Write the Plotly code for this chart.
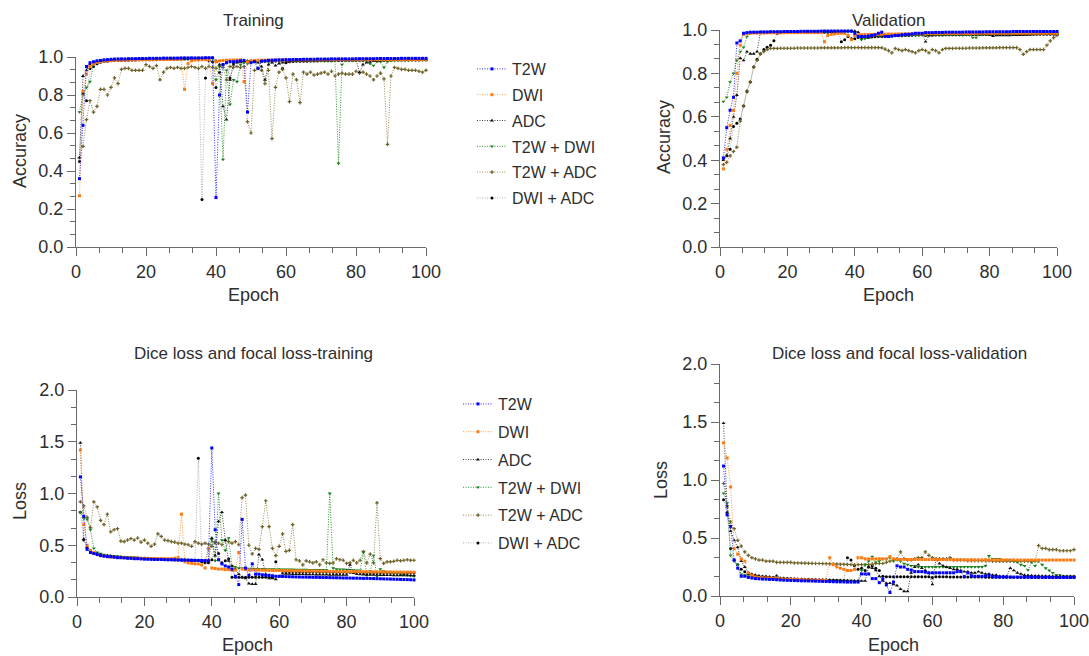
import plotly.graph_objects as go

# ---------------- data ----------------
epochs = list(range(1, 101))
series_names = ["T2W", "DWI", "ADC", "T2W + DWI", "T2W + ADC", "DWI + ADC"]

# Training accuracy
tr_acc_t2w = [
    0.36, 0.64, 0.95, 0.97, 0.975, 0.98, 0.982, 0.985, 0.986, 0.988,
    0.989, 0.99, 0.99, 0.99, 0.991, 0.991, 0.991, 0.992, 0.992, 0.992,
    0.993, 0.993, 0.993, 0.993, 0.994, 0.994, 0.994, 0.994, 0.994, 0.995,
    0.995, 0.995, 0.995, 0.995, 0.995, 0.995, 0.996, 0.996, 0.996, 0.26,
    0.80, 0.96, 0.97, 0.975, 0.975, 0.978, 0.98, 0.982, 0.71, 0.97,
    0.975, 0.94, 0.978, 0.98, 0.982, 0.983, 0.984, 0.985, 0.985, 0.986,
    0.986, 0.987, 0.987, 0.987, 0.988, 0.988, 0.988, 0.988, 0.989, 0.989,
    0.989, 0.989, 0.99, 0.99, 0.99, 0.99, 0.99, 0.99, 0.99, 0.991,
    0.991, 0.991, 0.991, 0.991, 0.991, 0.992, 0.992, 0.992, 0.992, 0.992,
    0.992, 0.992, 0.993, 0.993, 0.993, 0.993, 0.993, 0.993, 0.993, 0.993]
tr_acc_dwi = [
    0.27, 0.82, 0.91, 0.95, 0.965, 0.972, 0.976, 0.978, 0.98, 0.981,
    0.982, 0.983, 0.983, 0.984, 0.984, 0.985, 0.985, 0.985, 0.986, 0.986,
    0.986, 0.986, 0.987, 0.987, 0.987, 0.987, 0.987, 0.988, 0.988, 0.988,
    0.83, 0.965, 0.98, 0.984, 0.985, 0.986, 0.986, 0.987, 0.86, 0.975,
    0.98, 0.982, 0.983, 0.983, 0.984, 0.984, 0.985, 0.87, 0.975, 0.98,
    0.982, 0.983, 0.983, 0.983, 0.984, 0.984, 0.984, 0.984, 0.984, 0.985,
    0.985, 0.985, 0.985, 0.985, 0.985, 0.985, 0.985, 0.985, 0.985, 0.985,
    0.986, 0.986, 0.986, 0.986, 0.986, 0.986, 0.986, 0.986, 0.986, 0.986,
    0.986, 0.986, 0.986, 0.986, 0.986, 0.986, 0.986, 0.986, 0.986, 0.986,
    0.986, 0.986, 0.986, 0.986, 0.986, 0.986, 0.986, 0.986, 0.986, 0.986]
tr_acc_adc = [
    0.47, 0.90, 0.93, 0.96, 0.97, 0.975, 0.978, 0.98, 0.982, 0.984,
    0.985, 0.986, 0.987, 0.987, 0.988, 0.988, 0.989, 0.989, 0.99, 0.99,
    0.99, 0.991, 0.991, 0.991, 0.992, 0.992, 0.992, 0.993, 0.993, 0.993,
    0.993, 0.994, 0.994, 0.994, 0.994, 0.995, 0.995, 0.995, 0.995, 0.98,
    0.96, 0.74, 0.67, 0.88, 0.96, 0.97, 0.975, 0.978, 0.98, 0.98,
    0.975, 0.97, 0.95, 0.88, 0.96, 0.97, 0.955, 0.965, 0.97, 0.975,
    0.978, 0.978, 0.979, 0.98, 0.98, 0.98, 0.981, 0.981, 0.981, 0.982,
    0.982, 0.982, 0.982, 0.983, 0.983, 0.983, 0.983, 0.984, 0.984, 0.984,
    0.92, 0.96, 0.97, 0.975, 0.978, 0.98, 0.981, 0.982, 0.982, 0.983,
    0.983, 0.983, 0.984, 0.984, 0.984, 0.984, 0.985, 0.985, 0.985, 0.985]
tr_acc_td = [
    0.71, 0.80, 0.84, 0.87, 0.96, 0.975, 0.978, 0.98, 0.982, 0.984,
    0.985, 0.985, 0.986, 0.986, 0.987, 0.987, 0.988, 0.988, 0.988, 0.989,
    0.989, 0.989, 0.99, 0.99, 0.99, 0.99, 0.991, 0.991, 0.991, 0.991,
    0.991, 0.992, 0.992, 0.992, 0.992, 0.992, 0.993, 0.993, 0.993, 0.88,
    0.95, 0.46, 0.93, 0.75, 0.88, 0.87, 0.96, 0.97, 0.965, 0.975,
    0.975, 0.976, 0.976, 0.977, 0.977, 0.977, 0.978, 0.978, 0.978, 0.978,
    0.979, 0.979, 0.979, 0.979, 0.98, 0.98, 0.98, 0.98, 0.98, 0.98,
    0.98, 0.98, 0.98, 0.98, 0.44, 0.96, 0.98, 0.98, 0.98, 0.981,
    0.981, 0.981, 0.981, 0.965, 0.955, 0.975, 0.975, 0.945, 0.975, 0.98,
    0.981, 0.981, 0.981, 0.982, 0.982, 0.982, 0.982, 0.982, 0.983, 0.983]
tr_acc_ta = [
    0.47, 0.53, 0.67, 0.77, 0.71, 0.74, 0.83, 0.83, 0.80, 0.84,
    0.89, 0.86, 0.935, 0.94, 0.94, 0.93, 0.93, 0.93, 0.93, 0.96,
    0.95, 0.94, 0.955, 0.88, 0.92, 0.94, 0.945, 0.94, 0.945, 0.94,
    0.94, 0.945, 0.95, 0.945, 0.94, 0.95, 0.94, 0.95, 0.945, 0.94,
    0.95, 0.945, 0.88, 0.95, 0.945, 0.95, 0.945, 0.95, 0.66, 0.60,
    0.93, 0.94, 0.93, 0.86, 0.93, 0.57, 0.84, 0.92, 0.935, 0.89,
    0.765, 0.91, 0.88, 0.76, 0.92, 0.91, 0.92, 0.905, 0.91, 0.915,
    0.92, 0.91, 0.925, 0.90, 0.91, 0.915, 0.91, 0.91, 0.91, 0.925,
    0.915, 0.92, 0.91, 0.90, 0.88, 0.90, 0.915, 0.885, 0.54, 0.90,
    0.945, 0.94, 0.935, 0.935, 0.93, 0.93, 0.93, 0.925, 0.92, 0.93]
tr_acc_da = [
    0.45, 0.81, 0.77, 0.94, 0.95, 0.965, 0.972, 0.976, 0.978, 0.98,
    0.981, 0.982, 0.982, 0.983, 0.983, 0.984, 0.984, 0.985, 0.985, 0.985,
    0.986, 0.986, 0.986, 0.987, 0.987, 0.987, 0.988, 0.988, 0.988, 0.988,
    0.989, 0.989, 0.989, 0.99, 0.99, 0.25, 0.89, 0.98, 0.975, 0.84,
    0.92, 0.96, 0.97, 0.89, 0.97, 0.975, 0.975, 0.976, 0.976, 0.977,
    0.977, 0.977, 0.978, 0.978, 0.978, 0.978, 0.979, 0.979, 0.94, 0.97,
    0.975, 0.976, 0.977, 0.977, 0.978, 0.978, 0.979, 0.979, 0.979, 0.98,
    0.98, 0.98, 0.98, 0.981, 0.981, 0.981, 0.981, 0.982, 0.982, 0.982,
    0.982, 0.982, 0.983, 0.983, 0.983, 0.983, 0.983, 0.983, 0.984, 0.984,
    0.984, 0.984, 0.984, 0.984, 0.984, 0.985, 0.985, 0.985, 0.985, 0.985]

# Validation accuracy
va_acc_t2w = [
    0.41, 0.55, 0.63, 0.69, 0.94, 0.95, 0.985, 0.988, 0.99, 0.99,
    0.99, 0.991, 0.991, 0.991, 0.992, 0.992, 0.992, 0.992, 0.993, 0.993,
    0.993, 0.993, 0.993, 0.994, 0.994, 0.994, 0.994, 0.994, 0.994, 0.995,
    0.995, 0.995, 0.995, 0.995, 0.995, 0.995, 0.995, 0.995, 0.995, 0.985,
    0.97, 0.97, 0.97, 0.972, 0.975, 0.978, 0.985, 0.99, 0.97, 0.97,
    0.972, 0.975, 0.975, 0.978, 0.98, 0.98, 0.982, 0.985, 0.985, 0.985,
    0.988, 0.988, 0.988, 0.989, 0.989, 0.989, 0.99, 0.99, 0.99, 0.99,
    0.99, 0.99, 0.991, 0.991, 0.991, 0.991, 0.991, 0.991, 0.992, 0.992,
    0.992, 0.992, 0.992, 0.992, 0.992, 0.992, 0.993, 0.993, 0.993, 0.993,
    0.993, 0.993, 0.993, 0.993, 0.993, 0.993, 0.993, 0.993, 0.993, 0.993]
va_acc_dwi = [
    0.36, 0.45, 0.56, 0.63, 0.80, 0.93, 0.98, 0.984, 0.985, 0.986,
    0.986, 0.986, 0.986, 0.987, 0.987, 0.987, 0.987, 0.987, 0.987, 0.988,
    0.988, 0.988, 0.988, 0.988, 0.988, 0.988, 0.988, 0.988, 0.988, 0.988,
    0.946, 0.975, 0.98, 0.982, 0.984, 0.985, 0.984, 0.975, 0.955, 0.975,
    0.978, 0.978, 0.979, 0.979, 0.98, 0.98, 0.98, 0.98, 0.981, 0.981,
    0.981, 0.981, 0.982, 0.982, 0.982, 0.982, 0.982, 0.983, 0.983, 0.983,
    0.983, 0.983, 0.983, 0.983, 0.984, 0.984, 0.984, 0.984, 0.984, 0.984,
    0.984, 0.984, 0.984, 0.984, 0.984, 0.984, 0.985, 0.985, 0.985, 0.985,
    0.985, 0.985, 0.985, 0.985, 0.985, 0.985, 0.985, 0.985, 0.985, 0.985,
    0.985, 0.985, 0.985, 0.985, 0.985, 0.985, 0.985, 0.985, 0.985, 0.985]
va_acc_adc = [
    0.40, 0.42, 0.50, 0.60, 0.70, 0.87, 0.86, 0.90, 0.89, 0.89,
    0.90, 0.99, 0.99, 0.99, 0.99, 0.991, 0.991, 0.991, 0.991, 0.992,
    0.992, 0.992, 0.992, 0.992, 0.993, 0.993, 0.993, 0.993, 0.993, 0.993,
    0.994, 0.994, 0.994, 0.994, 0.994, 0.994, 0.995, 0.995, 0.995, 0.995,
    0.99, 0.975, 0.97, 0.965, 0.97, 0.975, 0.978, 0.978, 0.978, 0.979,
    0.979, 0.979, 0.979, 0.98, 0.98, 0.98, 0.98, 0.98, 0.98, 0.98,
    0.946, 0.975, 0.978, 0.979, 0.98, 0.98, 0.98, 0.98, 0.98, 0.98,
    0.98, 0.98, 0.98, 0.98, 0.98, 0.98, 0.98, 0.98, 0.98, 0.978,
    0.972, 0.975, 0.975, 0.975, 0.975, 0.975, 0.976, 0.976, 0.976, 0.977,
    0.978, 0.979, 0.98, 0.981, 0.982, 0.983, 0.983, 0.984, 0.984, 0.985]
va_acc_td = [
    0.67, 0.69, 0.76, 0.80, 0.86, 0.90, 0.92, 0.97, 0.985, 0.988,
    0.989, 0.99, 0.99, 0.99, 0.99, 0.99, 0.99, 0.991, 0.991, 0.991,
    0.991, 0.991, 0.991, 0.991, 0.991, 0.992, 0.992, 0.992, 0.992, 0.992,
    0.992, 0.992, 0.992, 0.992, 0.992, 0.992, 0.992, 0.992, 0.992, 0.99,
    0.975, 0.955, 0.96, 0.965, 0.97, 0.975, 0.975, 0.975, 0.975, 0.975,
    0.975, 0.976, 0.976, 0.976, 0.976, 0.976, 0.976, 0.976, 0.977, 0.977,
    0.977, 0.977, 0.977, 0.977, 0.977, 0.977, 0.977, 0.977, 0.977, 0.977,
    0.977, 0.977, 0.977, 0.977, 0.965, 0.965, 0.978, 0.978, 0.979, 0.979,
    0.98, 0.98, 0.98, 0.98, 0.98, 0.981, 0.981, 0.981, 0.982, 0.982,
    0.982, 0.982, 0.983, 0.983, 0.983, 0.983, 0.984, 0.984, 0.984, 0.985]
va_acc_ta = [
    0.38, 0.39, 0.42, 0.44, 0.46, 0.58, 0.65, 0.72, 0.76, 0.83,
    0.86, 0.89, 0.90, 0.91, 0.915, 0.915, 0.915, 0.916, 0.916, 0.916,
    0.916, 0.916, 0.917, 0.917, 0.917, 0.917, 0.917, 0.917, 0.917, 0.918,
    0.918, 0.918, 0.918, 0.918, 0.918, 0.918, 0.919, 0.919, 0.919, 0.919,
    0.919, 0.919, 0.919, 0.919, 0.919, 0.919, 0.919, 0.918, 0.912, 0.905,
    0.895, 0.915, 0.91, 0.905, 0.91, 0.905, 0.90, 0.895, 0.905, 0.91,
    0.905, 0.895, 0.91, 0.905, 0.895, 0.91, 0.915, 0.915, 0.915, 0.916,
    0.916, 0.916, 0.916, 0.917, 0.917, 0.917, 0.917, 0.918, 0.918, 0.918,
    0.918, 0.918, 0.919, 0.919, 0.919, 0.919, 0.919, 0.919, 0.91, 0.888,
    0.90, 0.91, 0.91, 0.91, 0.91, 0.91, 0.93, 0.95, 0.965, 0.975]
va_acc_da = [
    0.41, 0.42, 0.45, 0.555, 0.57, 0.59, 0.65, 0.716, 0.76, 0.83,
    0.865, 0.89, 0.91, 0.92, 0.93, 0.95, 0.985, 0.988, 0.989, 0.99,
    0.99, 0.99, 0.99, 0.99, 0.99, 0.99, 0.99, 0.99, 0.99, 0.99,
    0.99, 0.99, 0.99, 0.99, 0.99, 0.946, 0.955, 0.97, 0.96, 0.96,
    0.965, 0.965, 0.966, 0.967, 0.968, 0.969, 0.97, 0.97, 0.971, 0.972,
    0.972, 0.973, 0.973, 0.974, 0.975, 0.975, 0.976, 0.977, 0.977, 0.978,
    0.975, 0.976, 0.976, 0.977, 0.977, 0.977, 0.978, 0.978, 0.978, 0.978,
    0.978, 0.978, 0.979, 0.979, 0.979, 0.979, 0.979, 0.979, 0.979, 0.979,
    0.979, 0.979, 0.98, 0.98, 0.98, 0.98, 0.98, 0.98, 0.98, 0.98,
    0.98, 0.98, 0.98, 0.98, 0.98, 0.98, 0.98, 0.98, 0.98, 0.98]

# Training loss
tr_loss_t2w = [
    1.16, 0.78, 0.46, 0.43, 0.42, 0.41, 0.40, 0.395, 0.39, 0.39,
    0.385, 0.38, 0.38, 0.378, 0.375, 0.373, 0.37, 0.37, 0.368, 0.366,
    0.365, 0.364, 0.363, 0.362, 0.362, 0.361, 0.36, 0.36, 0.36, 0.358,
    0.357, 0.356, 0.355, 0.355, 0.354, 0.353, 0.352, 0.352, 0.351, 1.44,
    0.65, 0.36, 0.32, 0.30, 0.29, 0.27, 0.20, 0.12, 0.75, 0.28,
    0.21, 0.32, 0.22, 0.22, 0.215, 0.21, 0.21, 0.205, 0.20, 0.20,
    0.198, 0.197, 0.196, 0.195, 0.194, 0.193, 0.192, 0.192, 0.191, 0.19,
    0.19, 0.189, 0.188, 0.188, 0.187, 0.186, 0.186, 0.185, 0.184, 0.184,
    0.183, 0.182, 0.182, 0.181, 0.18, 0.18, 0.179, 0.178, 0.177, 0.176,
    0.175, 0.174, 0.173, 0.172, 0.171, 0.17, 0.169, 0.168, 0.167, 0.165]
tr_loss_dwi = [
    1.42, 0.70, 0.50, 0.45, 0.43, 0.41, 0.40, 0.395, 0.39, 0.385,
    0.383, 0.381, 0.38, 0.379, 0.378, 0.377, 0.376, 0.375, 0.374, 0.373,
    0.373, 0.372, 0.372, 0.371, 0.371, 0.37, 0.37, 0.37, 0.375, 0.38,
    0.80, 0.34, 0.33, 0.325, 0.32, 0.32, 0.31, 0.28, 0.47, 0.28,
    0.275, 0.27, 0.27, 0.265, 0.265, 0.26, 0.26, 0.43, 0.27, 0.265,
    0.262, 0.261, 0.26, 0.26, 0.259, 0.258, 0.258, 0.257, 0.256, 0.256,
    0.255, 0.255, 0.254, 0.254, 0.253, 0.253, 0.252, 0.252, 0.251, 0.251,
    0.25, 0.25, 0.249, 0.249, 0.248, 0.248, 0.247, 0.247, 0.246, 0.246,
    0.246, 0.245, 0.245, 0.245, 0.244, 0.244, 0.244, 0.243, 0.243, 0.243,
    0.242, 0.242, 0.242, 0.241, 0.241, 0.241, 0.24, 0.24, 0.24, 0.24]
tr_loss_adc = [
    1.49, 0.56, 0.48, 0.45, 0.43, 0.42, 0.41, 0.40, 0.40, 0.395,
    0.39, 0.388, 0.386, 0.384, 0.382, 0.38, 0.378, 0.376, 0.375, 0.374,
    0.372, 0.37, 0.369, 0.368, 0.366, 0.365, 0.364, 0.362, 0.361, 0.36,
    0.359, 0.358, 0.357, 0.356, 0.355, 0.354, 0.353, 0.352, 0.351, 0.57,
    0.40, 0.73, 0.82, 0.55, 0.35, 0.30, 0.27, 0.22, 0.19, 0.18,
    0.13, 0.125, 0.125, 0.41, 0.36, 0.22, 0.18, 0.18, 0.17, 0.20,
    0.225, 0.224, 0.223, 0.222, 0.221, 0.22, 0.22, 0.219, 0.218, 0.218,
    0.217, 0.217, 0.216, 0.216, 0.215, 0.215, 0.214, 0.214, 0.213, 0.213,
    0.31, 0.23, 0.22, 0.218, 0.216, 0.215, 0.214, 0.213, 0.213, 0.212,
    0.212, 0.211, 0.211, 0.21, 0.21, 0.21, 0.209, 0.209, 0.208, 0.208]
tr_loss_td = [
    0.82, 0.76, 0.75, 0.65, 0.47, 0.43, 0.42, 0.41, 0.40, 0.40,
    0.395, 0.392, 0.39, 0.388, 0.386, 0.384, 0.382, 0.38, 0.378, 0.376,
    0.375, 0.373, 0.372, 0.37, 0.369, 0.368, 0.366, 0.365, 0.364, 0.362,
    0.361, 0.36, 0.358, 0.357, 0.356, 0.355, 0.354, 0.352, 0.46, 0.55,
    0.35, 1.00, 0.55, 0.45, 0.57, 0.30, 0.29, 0.28, 0.28, 0.275,
    0.274, 0.273, 0.272, 0.272, 0.271, 0.27, 0.27, 0.269, 0.268, 0.268,
    0.267, 0.267, 0.266, 0.266, 0.265, 0.265, 0.264, 0.264, 0.263, 0.263,
    0.262, 0.262, 0.261, 0.261, 1.00, 0.28, 0.27, 0.268, 0.266, 0.264,
    0.262, 0.26, 0.258, 0.256, 0.43, 0.21, 0.25, 0.40, 0.20, 0.27,
    0.25, 0.24, 0.235, 0.23, 0.225, 0.22, 0.215, 0.21, 0.205, 0.20]
tr_loss_ta = [
    0.92, 0.88, 0.77, 0.67, 0.92, 0.87, 0.74, 0.70, 0.80, 0.63,
    0.65, 0.66, 0.54, 0.535, 0.55, 0.565, 0.55, 0.57, 0.53, 0.55,
    0.52, 0.49, 0.51, 0.61, 0.585, 0.55, 0.545, 0.535, 0.53, 0.52,
    0.52, 0.51, 0.505, 0.49, 0.535, 0.52, 0.51, 0.52, 0.51, 0.49,
    0.535, 0.52, 0.505, 0.545, 0.535, 0.52, 0.535, 0.505, 0.96, 0.985,
    0.50, 0.416, 0.47, 0.46, 0.68, 0.93, 0.68, 0.47, 0.40, 0.49,
    0.61, 0.44, 0.45, 0.70, 0.36, 0.35, 0.31, 0.35, 0.34, 0.33,
    0.34, 0.31, 0.36, 0.33, 0.325, 0.33, 0.37, 0.36, 0.355, 0.325,
    0.33, 0.355, 0.33, 0.355, 0.44, 0.33, 0.415, 0.33, 0.91, 0.37,
    0.325, 0.34, 0.34, 0.345, 0.355, 0.35, 0.355, 0.36, 0.355, 0.355]
tr_loss_da = [
    0.82, 0.55, 0.48, 0.43, 0.42, 0.41, 0.40, 0.40, 0.395, 0.39,
    0.388, 0.386, 0.384, 0.382, 0.38, 0.378, 0.376, 0.374, 0.372, 0.37,
    0.369, 0.368, 0.366, 0.365, 0.364, 0.362, 0.361, 0.36, 0.358, 0.357,
    0.356, 0.355, 0.354, 0.352, 0.35, 1.34, 0.34, 0.33, 0.33, 0.36,
    0.53, 0.42, 0.33, 0.35, 0.37, 0.19, 0.19, 0.19, 0.19, 0.19,
    0.19, 0.19, 0.19, 0.19, 0.19, 0.19, 0.19, 0.19, 0.34, 0.26,
    0.248, 0.247, 0.247, 0.246, 0.246, 0.245, 0.245, 0.244, 0.244, 0.243,
    0.243, 0.242, 0.242, 0.241, 0.241, 0.24, 0.24, 0.24, 0.239, 0.239,
    0.239, 0.238, 0.238, 0.238, 0.237, 0.237, 0.237, 0.236, 0.236, 0.236,
    0.236, 0.235, 0.235, 0.235, 0.235, 0.234, 0.234, 0.234, 0.234, 0.234]

# Validation loss
va_loss_t2w = [
    1.12, 0.70, 0.60, 0.31, 0.24, 0.17, 0.17, 0.16, 0.155, 0.15,
    0.148, 0.146, 0.145, 0.143, 0.142, 0.14, 0.138, 0.136, 0.135, 0.134,
    0.133, 0.132, 0.131, 0.13, 0.13, 0.129, 0.128, 0.127, 0.126, 0.125,
    0.124, 0.123, 0.122, 0.122, 0.121, 0.12, 0.12, 0.12, 0.12, 0.19,
    0.19, 0.19, 0.15, 0.15, 0.115, 0.147, 0.095, 0.03, 0.12, 0.26,
    0.25, 0.25, 0.23, 0.224, 0.21, 0.21, 0.21, 0.205, 0.20, 0.20,
    0.20, 0.20, 0.20, 0.20, 0.20, 0.20, 0.21, 0.21, 0.167, 0.20,
    0.175, 0.17, 0.17, 0.17, 0.17, 0.18, 0.165, 0.165, 0.165, 0.164,
    0.164, 0.164, 0.163, 0.163, 0.163, 0.162, 0.162, 0.162, 0.162, 0.161,
    0.161, 0.161, 0.161, 0.16, 0.16, 0.16, 0.16, 0.16, 0.16, 0.16]
va_loss_dwi = [
    1.32, 1.19, 0.94, 0.41, 0.36, 0.32, 0.30, 0.20, 0.18, 0.165,
    0.16, 0.158, 0.156, 0.154, 0.152, 0.15, 0.148, 0.146, 0.145, 0.144,
    0.143, 0.142, 0.141, 0.14, 0.139, 0.138, 0.137, 0.136, 0.135, 0.133,
    0.33, 0.27, 0.25, 0.24, 0.23, 0.22, 0.22, 0.23, 0.33, 0.33,
    0.32, 0.32, 0.32, 0.32, 0.32, 0.32, 0.32, 0.34, 0.32, 0.315,
    0.315, 0.315, 0.315, 0.315, 0.315, 0.315, 0.314, 0.314, 0.314, 0.314,
    0.314, 0.314, 0.313, 0.313, 0.313, 0.313, 0.313, 0.313, 0.312, 0.312,
    0.312, 0.312, 0.312, 0.312, 0.312, 0.311, 0.311, 0.311, 0.311, 0.311,
    0.311, 0.311, 0.311, 0.31, 0.31, 0.31, 0.31, 0.31, 0.31, 0.31,
    0.31, 0.31, 0.31, 0.31, 0.31, 0.31, 0.31, 0.31, 0.31, 0.31]
va_loss_adc = [
    1.49, 0.77, 0.56, 0.48, 0.42, 0.30, 0.25, 0.20, 0.19, 0.18,
    0.175, 0.17, 0.17, 0.165, 0.16, 0.175, 0.155, 0.152, 0.15, 0.149,
    0.148, 0.147, 0.146, 0.145, 0.144, 0.143, 0.142, 0.141, 0.14, 0.14,
    0.138, 0.137, 0.136, 0.135, 0.134, 0.133, 0.132, 0.132, 0.131, 0.13,
    0.13, 0.25, 0.24, 0.22, 0.17, 0.13, 0.11, 0.11, 0.10, 0.09,
    0.06, 0.04, 0.04, 0.20, 0.25, 0.27, 0.24, 0.22, 0.20, 0.10,
    0.31, 0.28, 0.26, 0.25, 0.24, 0.23, 0.23, 0.22, 0.21, 0.21,
    0.20, 0.20, 0.21, 0.20, 0.19, 0.19, 0.18, 0.18, 0.17, 0.17,
    0.17, 0.24, 0.22, 0.20, 0.19, 0.18, 0.178, 0.176, 0.175, 0.174,
    0.173, 0.172, 0.172, 0.171, 0.171, 0.17, 0.17, 0.17, 0.17, 0.17]
va_loss_td = [
    0.885, 0.80, 0.35, 0.30, 0.27, 0.186, 0.18, 0.17, 0.165, 0.16,
    0.158, 0.156, 0.154, 0.152, 0.15, 0.148, 0.146, 0.144, 0.142, 0.14,
    0.14, 0.139, 0.139, 0.138, 0.138, 0.137, 0.137, 0.136, 0.136, 0.135,
    0.135, 0.134, 0.134, 0.133, 0.133, 0.132, 0.132, 0.131, 0.131, 0.22,
    0.27, 0.30, 0.34, 0.29, 0.30, 0.32, 0.32, 0.33, 0.30, 0.31,
    0.30, 0.28, 0.27, 0.26, 0.26, 0.25, 0.25, 0.25, 0.25, 0.25,
    0.25, 0.25, 0.25, 0.25, 0.25, 0.25, 0.25, 0.25, 0.25, 0.25,
    0.25, 0.25, 0.25, 0.25, 0.26, 0.345, 0.32, 0.32, 0.32, 0.31,
    0.31, 0.31, 0.30, 0.29, 0.27, 0.26, 0.224, 0.29, 0.26, 0.30,
    0.27, 0.24, 0.22, 0.20, 0.18, 0.18, 0.17, 0.17, 0.17, 0.17]
va_loss_ta = [
    0.97, 0.78, 0.64, 0.58, 0.48, 0.43, 0.38, 0.35, 0.33, 0.32,
    0.31, 0.31, 0.30, 0.30, 0.30, 0.29, 0.29, 0.29, 0.29, 0.29,
    0.285, 0.285, 0.284, 0.283, 0.282, 0.281, 0.28, 0.28, 0.279, 0.278,
    0.277, 0.276, 0.275, 0.274, 0.273, 0.272, 0.271, 0.27, 0.27, 0.27,
    0.27, 0.27, 0.275, 0.28, 0.28, 0.28, 0.29, 0.30, 0.31, 0.32,
    0.38, 0.32, 0.31, 0.31, 0.32, 0.33, 0.33, 0.38, 0.35, 0.33,
    0.32, 0.32, 0.32, 0.32, 0.33, 0.31, 0.31, 0.31, 0.31, 0.305,
    0.305, 0.305, 0.305, 0.305, 0.305, 0.305, 0.30, 0.30, 0.30, 0.30,
    0.30, 0.30, 0.30, 0.30, 0.30, 0.30, 0.30, 0.30, 0.30, 0.434,
    0.41, 0.41, 0.40, 0.40, 0.40, 0.39, 0.39, 0.39, 0.39, 0.40]
va_loss_da = [
    0.83, 0.72, 0.41, 0.31, 0.27, 0.23, 0.21, 0.19, 0.18, 0.17,
    0.168, 0.165, 0.162, 0.16, 0.158, 0.156, 0.154, 0.152, 0.15, 0.148,
    0.146, 0.145, 0.144, 0.143, 0.142, 0.141, 0.14, 0.139, 0.138, 0.137,
    0.136, 0.135, 0.134, 0.133, 0.132, 0.33, 0.31, 0.26, 0.23, 0.24,
    0.22, 0.25, 0.26, 0.24, 0.22, 0.17, 0.166, 0.166, 0.166, 0.166,
    0.166, 0.166, 0.166, 0.166, 0.166, 0.166, 0.166, 0.166, 0.166, 0.16,
    0.165, 0.165, 0.165, 0.165, 0.164, 0.164, 0.164, 0.164, 0.164, 0.163,
    0.163, 0.163, 0.163, 0.163, 0.162, 0.162, 0.162, 0.162, 0.162, 0.162,
    0.161, 0.161, 0.161, 0.161, 0.161, 0.161, 0.161, 0.16, 0.16, 0.16,
    0.16, 0.16, 0.16, 0.16, 0.16, 0.16, 0.16, 0.16, 0.16, 0.16]

panel_data = [
    [tr_acc_t2w, tr_acc_dwi, tr_acc_adc, tr_acc_td, tr_acc_ta, tr_acc_da],
    [va_acc_t2w, va_acc_dwi, va_acc_adc, va_acc_td, va_acc_ta, va_acc_da],
    [tr_loss_t2w, tr_loss_dwi, tr_loss_adc, tr_loss_td, tr_loss_ta, tr_loss_da],
    [va_loss_t2w, va_loss_dwi, va_loss_adc, va_loss_td, va_loss_ta, va_loss_da],
]
panel_titles = ["Training", "Validation",
                "Dice loss and focal loss-training", "Dice loss and focal loss-validation"]
panel_ytitles = ["Accuracy", "Accuracy", "Loss", "Loss"]

# ---------------- styles ----------------
W, H = 1089, 656
line_colors = ["#3030ff", "#ff9a40", "#404040", "#2e9a2e", "#9a8a50", "#b0b0b0"]
marker_colors = ["#0000ff", "#ff7a10", "#111111", "#17801a", "#6f6228", "#000000"]
marker_symbols = ["square", "square", "triangle-up", "triangle-down", "cross", "circle"]
marker_sizes = [3, 3, 3.5, 3.5, 3, 3]
draw_order = [5, 4, 3, 2, 1, 0]

# pixel boxes: (x_left, x_right, y_top, y_bottom)
boxes = [(76, 426, 57, 247), (720, 1057, 30, 247), (77, 414, 390, 597), (720, 1074, 364, 596)]
yranges = [[0, 1], [0, 1], [0, 2], [0, 2]]
ydticks = [0.2, 0.2, 0.5, 0.5]
title_pos = [(253, 20), (888, 20), (253, 353), (899, 353)]
ytitle_pos = [(20, 151), (664, 137), (20, 501), (661, 480)]
xtitle_pos = [(253, 295), (888, 295), (247, 645), (893, 645)]

FONT = "Liberation Sans, Arial, Helvetica, sans-serif"
TXT = "#2e2e2e"
AX = "#6a6a6a"

def px(x):
    return x / W

def py(y):
    return 1 - y / H

fig = go.Figure()
for p in range(4):
    sfx = "" if p == 0 else str(p + 1)
    for i in draw_order:
        legend_name = "legend" if p in (0, 1) else "legend2"
        fig.add_trace(go.Scatter(
            x=epochs, y=panel_data[p][i], name=series_names[i],
            xaxis="x" + sfx, yaxis="y" + sfx,
            mode="lines+markers",
            line=dict(color=line_colors[i], width=1, dash="1px,1.5px"),
            marker=dict(symbol=marker_symbols[i], size=marker_sizes[i],
                        color=marker_colors[i], line=dict(width=0)),
            showlegend=(p in (0, 2)), legend=legend_name,
            legendgroup=f"{legend_name}_{i}", legendrank=i + 1,
            cliponaxis=False,
        ))

layout = dict(
    width=W, height=H, margin=dict(l=0, r=0, t=0, b=0, autoexpand=False),
    paper_bgcolor="white", plot_bgcolor="white",
    font=dict(family=FONT, color=TXT, size=18),
    annotations=[],
)
for p in range(4):
    sfx = "" if p == 0 else str(p + 1)
    xl, xr, yt, yb = boxes[p]
    common = dict(showline=True, linecolor=AX, linewidth=1, ticks="outside",
                  ticklen=8, tickcolor=AX, tickwidth=1, showgrid=False, automargin=False,
                  ticklabeloverflow="allow",
                  zeroline=False, tickfont=dict(size=18, color=TXT, family=FONT))
    layout["xaxis" + sfx] = dict(
        common, domain=[px(xl), px(xr)], range=[0, 100], tick0=0, dtick=20,
        anchor="y" + sfx,
        minor=dict(ticks="outside", ticklen=5, tickcolor=AX, dtick=20 / 3, tick0=0, showgrid=False))
    layout["yaxis" + sfx] = dict(
        common, domain=[py(yb), py(yt)], range=yranges[p], tick0=0, dtick=ydticks[p],
        tickformat=".1f", anchor="x" + sfx,
        minor=dict(ticks="outside", ticklen=5, tickcolor=AX, dtick=ydticks[p] / 3, tick0=0, showgrid=False))
    tx, ty = title_pos[p]
    layout["annotations"].append(dict(text=panel_titles[p], x=px(tx), y=py(ty), xref="paper", yref="paper",
                                      xanchor="center", yanchor="middle", showarrow=False,
                                      font=dict(size=17, color=TXT, family=FONT)))
    ax_, ay_ = ytitle_pos[p]
    layout["annotations"].append(dict(text=panel_ytitles[p], x=px(ax_), y=py(ay_), xref="paper", yref="paper",
                                      xanchor="center", yanchor="middle", showarrow=False, textangle=-90,
                                      font=dict(size=18, color=TXT, family=FONT)))
    bx, by = xtitle_pos[p]
    layout["annotations"].append(dict(text="Epoch", x=px(bx), y=py(by), xref="paper", yref="paper",
                                      xanchor="center", yanchor="middle", showarrow=False,
                                      font=dict(size=18, color=TXT, family=FONT)))

layout["legend"] = dict(x=px(472), y=py(52), xanchor="left", yanchor="top",
                        font=dict(size=16, color=TXT, family=FONT), tracegroupgap=2,
                        bgcolor="rgba(0,0,0,0)", traceorder="grouped")
layout["legend2"] = dict(x=px(458), y=py(387), xanchor="left", yanchor="top",
                         font=dict(size=16, color=TXT, family=FONT), tracegroupgap=4,
                         bgcolor="rgba(0,0,0,0)", traceorder="grouped")
fig.update_layout(**layout)
fig.write_html("out.html", config={"displayModeBar": False},
               post_script="document.body.style.margin='0';document.body.style.overflow='hidden';")
